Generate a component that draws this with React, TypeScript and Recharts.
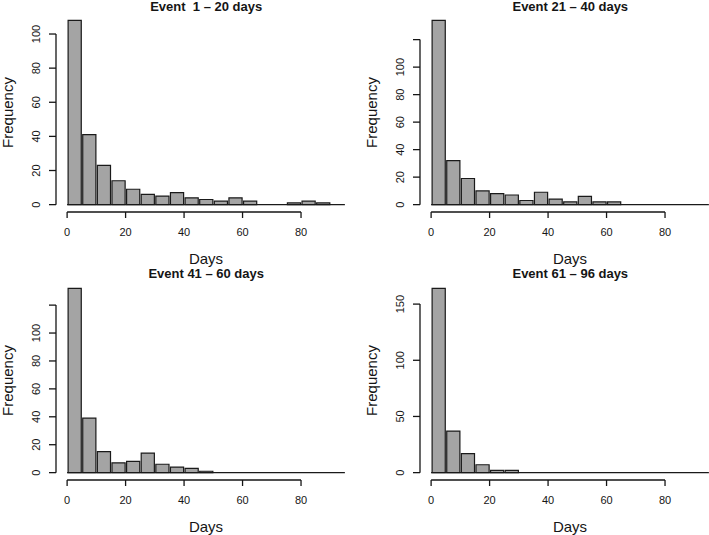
import React from 'react';
import { BarChart, Bar, XAxis, YAxis, ReferenceLine, Label } from 'recharts';

// histogram bins, 5 days wide
const binEdges = [0, 5, 10, 15, 20, 25, 30, 35, 40, 45, 50, 55, 60, 65, 70, 75, 80, 85, 90, 95];

const event1to20 = [108, 41, 23, 14, 9, 6, 5, 7, 4, 3, 2, 4, 2, 0, 0, 1, 2, 1, 0];
const event21to40 = [134, 32, 19, 10, 8, 7, 3, 9, 4, 2, 6, 2, 2, 0, 0, 0, 0, 0, 0];
const event41to60 = [132, 39, 15, 7, 8, 14, 6, 4, 3, 1, 0, 0, 0, 0, 0, 0, 0, 0, 0];
const event61to96 = [164, 37, 17, 7, 2, 2, 0, 0, 0, 0, 0, 0, 0, 0, 0, 0, 0, 0, 0];

const titles = ['Event  1 \u2013 20 days', 'Event 21 \u2013 40 days', 'Event 41 \u2013 60 days', 'Event 61 \u2013 96 days'];

const xTicks = [0, 20, 40, 60, 80];
const yTicks100 = [0, 20, 40, 60, 80, 100];
const yTicks120 = [0, 20, 40, 60, 80, 100, 120];
const yTicks150 = [0, 50, 100, 150];

const FONT = '"Liberation Sans", Arial, Helvetica, sans-serif';
const INK = '#151515';
const PLOT_W = 300;
const PLOT_H = 199;
const Y_AXIS_W = 60;
const X_AXIS_H = 60;
const TOP = 20;

interface PanelProps {
  title: string;
  counts: number[];
  yTicks: number[];
  labelMax: number;
  left: number;
  top: number;
}

function XTick(props: any) {
  const { x, y, payload } = props;
  return (
    <text x={x} y={y} dy="0.71em" textAnchor="middle" fontSize={11} fill={INK} fontFamily={FONT}>
      {payload.value}
    </text>
  );
}

function YTick(props: any) {
  const { x, y, payload, labelMax } = props;
  if (payload.value > labelMax) return null;
  return (
    <text x={x} y={y} transform={`rotate(-90 ${x} ${y})`} textAnchor="middle" fontSize={11} fill={INK} fontFamily={FONT}>
      {payload.value}
    </text>
  );
}

function Panel({ title, counts, yTicks, labelMax, left, top }: PanelProps) {
  // bars sit on the bin midpoints of a numeric axis
  const data = counts.map((count, i) => ({ mid: (binEdges[i] + binEdges[i + 1]) / 2, count }));
  const lo = binEdges[0];
  const hi = binEdges[binEdges.length - 1];
  const ext = (hi - lo) * 0.04;
  const xDomain = [lo - ext, hi + ext];
  const maxCount = Math.max(...counts);
  const yDomain = [-maxCount * 0.04, maxCount * 1.04];
  const band = ((binEdges[1] - binEdges[0]) / (xDomain[1] - xDomain[0])) * PLOT_W;
  const lastTick = yTicks[yTicks.length - 1];

  return (
    <div style={{ position: 'absolute', left, top }}>
      <div
        style={{
          position: 'absolute',
          left: Y_AXIS_W,
          width: PLOT_W,
          top: TOP - 13.7,
          textAlign: 'center',
          fontFamily: FONT,
          fontWeight: 'bold',
          fontSize: 13,
          lineHeight: '13px',
          color: INK,
          whiteSpace: 'pre',
        }}
      >
        {title}
      </div>
      <BarChart
        width={Y_AXIS_W + PLOT_W}
        height={TOP + PLOT_H + X_AXIS_H}
        data={data}
        margin={{ top: TOP, right: 0, bottom: 0, left: 0 }}
        barCategoryGap={0}
        barGap={0}
      >
        <XAxis
          dataKey="mid"
          type="number"
          domain={xDomain}
          allowDataOverflow
          ticks={xTicks}
          interval={0}
          axisLine={false}
          tickSize={6}
          tickMargin={10}
          height={X_AXIS_H}
          tickLine={{ stroke: INK, strokeWidth: 1.3 }}
          tick={<XTick />}
        >
          <Label value="Days" position="insideBottom" offset={8} style={{ fontSize: 15, fill: INK, fontFamily: FONT }} />
        </XAxis>
        <YAxis
          type="number"
          domain={yDomain}
          allowDataOverflow
          ticks={yTicks}
          interval={0}
          axisLine={false}
          tickSize={7}
          tickMargin={9}
          width={Y_AXIS_W}
          tickLine={{ stroke: INK, strokeWidth: 1.3 }}
          tick={<YTick labelMax={labelMax} />}
        >
          <Label
            value="Frequency"
            angle={-90}
            position="insideLeft"
            offset={11.5}
            style={{ fontSize: 15, fill: INK, fontFamily: FONT, textAnchor: 'middle' }}
          />
        </YAxis>
        <Bar
          dataKey="count"
          fill="#a4a4a4"
          stroke="#1a1a1a"
          strokeWidth={1.2}
          barSize={band}
          isAnimationActive={false}
        />
        <ReferenceLine
          segment={[{ x: lo, y: 0 }, { x: hi, y: 0 }]}
          stroke="#1a1a1a"
          strokeWidth={1.2}
          ifOverflow="visible"
        />
        <ReferenceLine
          segment={[{ x: xTicks[0], y: yDomain[0] }, { x: xTicks[xTicks.length - 1], y: yDomain[0] }]}
          stroke={INK}
          strokeWidth={1.3}
          ifOverflow="visible"
        />
        <ReferenceLine
          segment={[{ x: xDomain[0], y: yTicks[0] }, { x: xDomain[0], y: lastTick }]}
          stroke={INK}
          strokeWidth={1.3}
          ifOverflow="visible"
        />
      </BarChart>
    </div>
  );
}

export default function App() {
  return (
    <div style={{ position: 'absolute', left: 0, top: 0, width: 709, height: 535, overflow: 'hidden', background: '#fff' }}>
      <Panel title={titles[0]} counts={event1to20} yTicks={yTicks100} labelMax={100} left={-3.8} top={-6.6} />
      <Panel title={titles[1]} counts={event21to40} yTicks={yTicks120} labelMax={100} left={360.3} top={-6.6} />
      <Panel title={titles[2]} counts={event41to60} yTicks={yTicks120} labelMax={100} left={-3.8} top={260.7} />
      <Panel title={titles[3]} counts={event61to96} yTicks={yTicks150} labelMax={150} left={360.3} top={260.7} />
    </div>
  );
}
